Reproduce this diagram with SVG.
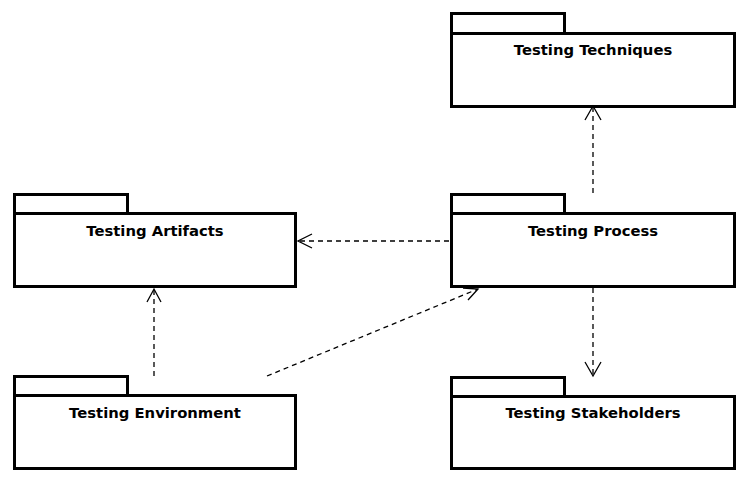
<svg xmlns="http://www.w3.org/2000/svg" width="748" height="482" viewBox="0 0 748 482">
<style>
.pk{fill:#fff;stroke:#000;stroke-width:3}
.lbl{font-family:"DejaVu Sans",sans-serif;font-weight:bold;font-size:14.8px;fill:#000;text-anchor:middle}
.dep{fill:none;stroke:#000;stroke-width:1.3;stroke-dasharray:5 4}
.ah{fill:none;stroke:#000;stroke-width:1.3}
</style>
<rect width="748" height="482" fill="#fff"/>
<g id="techniques">
<rect class="pk" x="451.5" y="13.5" width="113" height="20"/>
<rect class="pk" x="451.5" y="33.5" width="283" height="73"/>
<text class="lbl" x="593" y="55">Testing Techniques</text>
</g>
<g id="artifacts">
<rect class="pk" x="14.5" y="194.5" width="113" height="19"/>
<rect class="pk" x="14.5" y="213.5" width="281" height="73"/>
<text class="lbl" x="155" y="236">Testing Artifacts</text>
</g>
<g id="process">
<rect class="pk" x="451.5" y="194.5" width="113" height="19"/>
<rect class="pk" x="451.5" y="213.5" width="283" height="73"/>
<text class="lbl" x="593" y="236">Testing Process</text>
</g>
<g id="environment">
<rect class="pk" x="14.5" y="376.5" width="113" height="19"/>
<rect class="pk" x="14.5" y="395.5" width="281" height="73"/>
<text class="lbl" x="155" y="418">Testing Environment</text>
</g>
<g id="stakeholders">
<rect class="pk" x="451.5" y="377.5" width="113" height="19"/>
<rect class="pk" x="451.5" y="396.5" width="283" height="72"/>
<text class="lbl" x="593" y="418">Testing Stakeholders</text>
</g>
<g id="connectors">
<line class="dep" x1="593" y1="193" x2="593" y2="107"/>
<polyline class="ah" points="585,120 593,106 601,120"/>
<line class="dep" x1="449" y1="241" x2="298" y2="241"/>
<polyline class="ah" points="312,234 298,241 312,248"/>
<line class="dep" x1="154" y1="376" x2="154" y2="289"/>
<polyline class="ah" points="147,302 154,289 161,302"/>
<line class="dep" x1="267" y1="376" x2="478" y2="289"/>
<polyline class="ah" points="463,288 478,289 468,300"/>
<line class="dep" x1="593" y1="288" x2="593" y2="376"/>
<polyline class="ah" points="585,362 593,376 601,362"/>
</g>
</svg>
